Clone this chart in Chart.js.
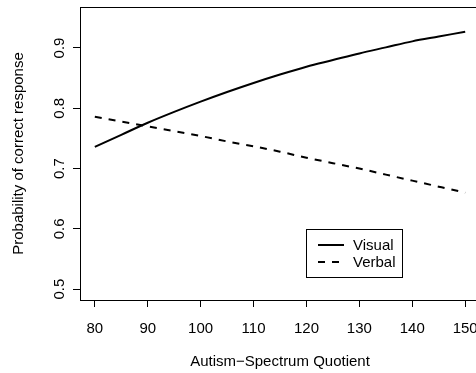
<!DOCTYPE html>
<html lang="en">
<head>
    <meta charset="UTF-8">
    <title>Probability of correct response by AQ</title>
    <script src="https://cdn.jsdelivr.net/npm/chart.js"></script>
    <style>
        html, body { margin: 0; padding: 0; overflow: hidden; background: #fff; }
        #chart { display: block; }
    </style>
</head>
<body>
    <canvas id="chart" width="481" height="373"></canvas>

    <script>
        // values
        const aqScores = [80, 85, 90, 95, 100, 105, 110, 115, 120, 125, 130, 135, 140, 145, 150];
        const visualProb = [0.736, 0.756, 0.776, 0.794, 0.811, 0.827, 0.842, 0.856, 0.869, 0.880, 0.891, 0.901, 0.911, 0.919, 0.927];
        const verbalProb = [0.786, 0.778, 0.770, 0.762, 0.754, 0.745, 0.737, 0.728, 0.718, 0.709, 0.700, 0.690, 0.680, 0.670, 0.660];
        const xTicks = [80, 90, 100, 110, 120, 130, 140, 150];
        const yTicks = [0.5, 0.6, 0.7, 0.8, 0.9];
        const seriesNames = ["Visual", "Verbal"];

        const font = "Liberation Sans, Arial, Helvetica, sans-serif";

        function toPoints(values) {
            return aqScores.map((x, i) => ({ x: x, y: values[i] }));
        }

        // box round the plot region, like R's box()
        const boxPlugin = {
            id: "box",
            afterDraw(chart) {
                const a = chart.chartArea;
                const ctx = chart.ctx;
                ctx.save();
                ctx.strokeStyle = "#000";
                ctx.lineWidth = 1;
                ctx.strokeRect(Math.round(a.left) + 0.5, Math.round(a.top) + 0.5,
                    Math.round(a.right - a.left), Math.round(a.bottom - a.top));
                ctx.restore();
            }
        };

        // legend drawn inside the plot, bottom right
        const insideLegend = {
            id: "insideLegend",
            afterDraw(chart) {
                const ctx = chart.ctx;
                ctx.save();
                ctx.strokeStyle = "#000";
                ctx.lineWidth = 1;
                ctx.strokeRect(306.5, 229.5, 96, 48);
                ctx.font = "15px " + font;
                ctx.textBaseline = "middle";
                ctx.fillStyle = "#000";
                chart.data.datasets.forEach((ds, i) => {
                    const y = 245 + i * 17;
                    ctx.lineWidth = 2;
                    ctx.setLineDash(ds.borderDash || []);
                    ctx.beginPath();
                    ctx.moveTo(318, y);
                    ctx.lineTo(344, y);
                    ctx.stroke();
                    ctx.setLineDash([]);
                    ctx.fillText(ds.label, 353, y + 1);
                });
                ctx.restore();
            }
        };

        new Chart(document.getElementById("chart"), {
            type: "line",
            data: {
                datasets: [
                    {
                        label: seriesNames[0],
                        data: toPoints(visualProb),
                        borderColor: "#000",
                        borderWidth: 2,
                        pointRadius: 0,
                        cubicInterpolationMode: "monotone"
                    },
                    {
                        label: seriesNames[1],
                        data: toPoints(verbalProb),
                        borderColor: "#000",
                        borderWidth: 2,
                        borderDash: [7, 7],
                        pointRadius: 0,
                        cubicInterpolationMode: "monotone"
                    }
                ]
            },
            options: {
                responsive: false,
                animation: false,
                layout: { padding: { top: 7, right: 1, left: 0, bottom: 0 } },
                plugins: {
                    legend: { display: false },
                    tooltip: { enabled: false }
                },
                scales: {
                    x: {
                        type: "linear",
                        min: 77.2,
                        max: 152.8,
                        afterBuildTicks: scale => { scale.ticks = xTicks.map(v => ({ value: v })); },
                        afterFit: scale => {
                            scale.height = 73;
                            scale.paddingLeft = 0;
                            scale.paddingRight = 0;
                        },
                        border: { display: false },
                        grid: { drawOnChartArea: false, drawTicks: true, tickLength: 7, color: "#000" },
                        ticks: {
                            color: "#000",
                            font: { family: font, size: 15 },
                            padding: 13,
                            maxRotation: 0,
                            autoSkip: false
                        },
                        title: {
                            display: true,
                            text: "Autism\u2212Spectrum Quotient",
                            color: "#000",
                            font: { family: font, size: 15 },
                            padding: { top: 0, bottom: 2 }
                        }
                    },
                    y: {
                        min: 0.482,
                        max: 0.968,
                        afterBuildTicks: scale => { scale.ticks = yTicks.map(v => ({ value: v })); },
                        afterFit: scale => {
                            scale.width = 80;
                            scale.paddingTop = 0;
                            scale.paddingBottom = 0;
                        },
                        border: { display: false },
                        grid: { drawOnChartArea: false, drawTicks: true, tickLength: 7, color: "#000" },
                        ticks: {
                            color: "#000",
                            font: { family: font, size: 15 },
                            minRotation: 90,
                            maxRotation: 90,
                            crossAlign: "center",
                            padding: 3,
                            autoSkip: false,
                            callback: v => v.toFixed(1)
                        },
                        title: {
                            display: true,
                            text: "Probability of correct response",
                            color: "#000",
                            font: { family: font, size: 15 },
                            padding: { top: 10, bottom: 0 }
                        }
                    }
                }
            },
            plugins: [boxPlugin, insideLegend]
        });
    </script>
</body>
</html>
